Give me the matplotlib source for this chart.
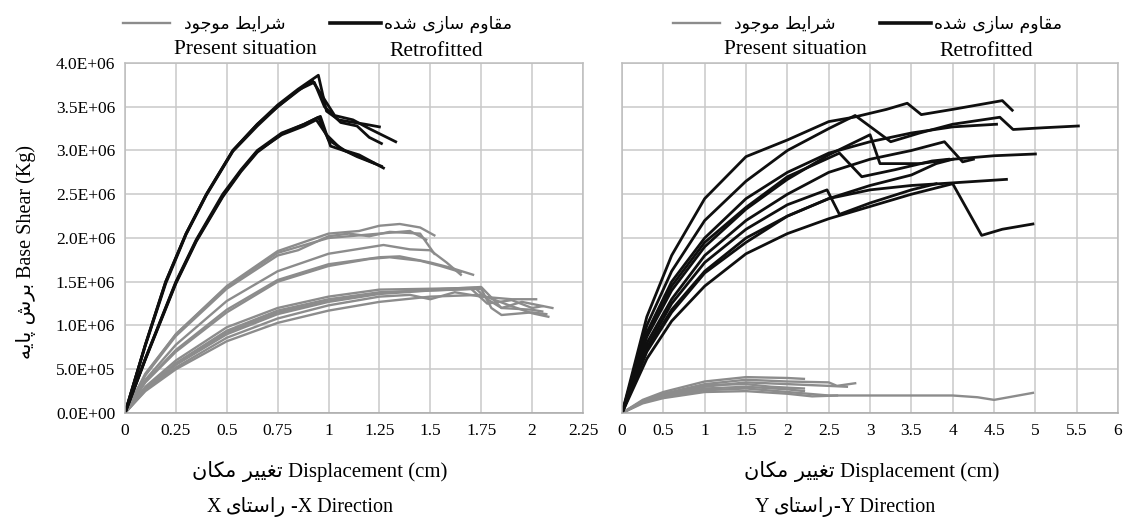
import numpy as np
import matplotlib
matplotlib.use("Agg")
import matplotlib.pyplot as plt
from matplotlib.lines import Line2D

SERIF = 'Liberation Serif'
SANS = 'DejaVu Sans'   # carries the arabic presentation forms
plt.rcParams['font.family'] = [SERIF, SANS]

# --- tiny persian shaper (presentation forms, visual order) ---
FORMS = {
    'ا': ('\uFE8D', '\uFE8E', None, None),
    'ب': ('\uFE8F', '\uFE90', '\uFE91', '\uFE92'),
    'پ': ('\uFB56', '\uFB57', '\uFB58', '\uFB59'),
    'ت': ('\uFE95', '\uFE96', '\uFE97', '\uFE98'),
    'ج': ('\uFE9D', '\uFE9E', '\uFE9F', '\uFEA0'),
    'د': ('\uFEA9', '\uFEAA', None, None),
    'ر': ('\uFEAD', '\uFEAE', None, None),
    'ز': ('\uFEAF', '\uFEB0', None, None),
    'س': ('\uFEB1', '\uFEB2', '\uFEB3', '\uFEB4'),
    'ش': ('\uFEB5', '\uFEB6', '\uFEB7', '\uFEB8'),
    'ط': ('\uFEC1', '\uFEC2', '\uFEC3', '\uFEC4'),
    'غ': ('\uFECD', '\uFECE', '\uFECF', '\uFED0'),
    'ق': ('\uFED5', '\uFED6', '\uFED7', '\uFED8'),
    'ک': ('\uFB8E', '\uFB8F', '\uFB90', '\uFB91'),
    'م': ('\uFEE1', '\uFEE2', '\uFEE3', '\uFEE4'),
    'ن': ('\uFEE5', '\uFEE6', '\uFEE7', '\uFEE8'),
    'ه': ('\uFEE9', '\uFEEA', '\uFEEB', '\uFEEC'),
    'و': ('\uFEED', '\uFEEE', None, None),
    'ی': ('\uFBFC', '\uFBFD', '\uFBFE', '\uFBFF'),
}


def fa(text):
    out = []
    for i, c in enumerate(text):
        if c not in FORMS:
            out.append(c)
            continue
        prev = text[i - 1] if i > 0 else ''
        nxt = text[i + 1] if i + 1 < len(text) else ''
        iso, fin, ini, med = FORMS[c]
        jp = prev in FORMS and FORMS[prev][2] is not None
        jn = nxt in FORMS and ini is not None
        if jp and jn:
            out.append(med)
        elif jp:
            out.append(fin)
        elif jn:
            out.append(ini)
        else:
            out.append(iso)
    return ''.join(out)[::-1]


# ---------------- data (base shear in 1E6 kg, displacement in cm) ----------------
# X direction, retrofitted
x_ret_x = [
    [0, 0.1, 0.2, 0.3, 0.4, 0.53, 0.65, 0.75, 0.85, 0.95, 0.99, 1.05, 1.1, 1.18, 1.25],
    [0, 0.1, 0.2, 0.3, 0.4, 0.53, 0.65, 0.75, 0.85, 0.92, 0.97, 1.03, 1.12, 1.2, 1.33],
    [0, 0.1, 0.2, 0.3, 0.4, 0.53, 0.65, 0.75, 0.85, 0.93, 0.98, 1.06, 1.14, 1.2, 1.26],
    [0, 0.1, 0.25, 0.35, 0.48, 0.57, 0.65, 0.77, 0.88, 0.95, 1.0, 1.08, 1.15, 1.27],
    [0, 0.1, 0.25, 0.35, 0.48, 0.57, 0.65, 0.77, 0.88, 0.94, 0.99, 1.06, 1.14, 1.26],
    [0, 0.1, 0.25, 0.35, 0.48, 0.57, 0.65, 0.77, 0.88, 0.96, 1.01, 1.1, 1.18, 1.22],
]
y_ret_x = [
    [0, 0.78, 1.5, 2.05, 2.5, 3.0, 3.3, 3.52, 3.7, 3.86, 3.45, 3.35, 3.33, 3.3, 3.27],
    [0, 0.78, 1.5, 2.05, 2.5, 3.0, 3.3, 3.5, 3.68, 3.8, 3.62, 3.4, 3.35, 3.25, 3.1],
    [0, 0.77, 1.48, 2.04, 2.49, 2.99, 3.28, 3.5, 3.69, 3.78, 3.5, 3.32, 3.28, 3.15, 3.08],
    [0, 0.62, 1.5, 1.98, 2.5, 2.78, 3.0, 3.2, 3.3, 3.38, 3.12, 3.0, 2.95, 2.8],
    [0, 0.62, 1.49, 1.97, 2.48, 2.77, 2.99, 3.18, 3.28, 3.35, 3.18, 3.02, 2.93, 2.82],
    [0, 0.61, 1.48, 1.96, 2.47, 2.76, 2.98, 3.19, 3.3, 3.39, 3.05, 2.98, 2.9, 2.86],
]

# X direction, present situation
x_pre_x = [
    [0, 0.1, 0.25, 0.5, 0.75, 1.0, 1.15, 1.25, 1.35, 1.45, 1.52],
    [0, 0.1, 0.25, 0.5, 0.75, 0.85, 1.0, 1.1, 1.2, 1.3, 1.45, 1.52],
    [0, 0.1, 0.25, 0.5, 0.75, 1.0, 1.25, 1.4, 1.48],
    [0, 0.1, 0.25, 0.5, 0.75, 1.0, 1.27, 1.4, 1.5, 1.58, 1.65],
    [0, 0.1, 0.25, 0.5, 0.75, 1.0, 1.25, 1.35, 1.5, 1.6, 1.71],
    [0, 0.1, 0.25, 0.5, 0.75, 1.0, 1.2, 1.3, 1.45, 1.55, 1.65],
    [0, 0.1, 0.25, 0.5, 0.75, 1.0, 1.25, 1.5, 1.72, 1.78, 1.85, 1.95, 2.1],
    [0, 0.1, 0.25, 0.5, 0.75, 1.0, 1.25, 1.5, 1.75, 1.8, 1.85, 2.0, 2.07],
    [0, 0.1, 0.25, 0.5, 0.75, 1.0, 1.25, 1.5, 1.7, 1.78, 1.9, 2.0, 2.05],
    [0, 0.1, 0.25, 0.5, 0.75, 1.0, 1.25, 1.4, 1.5, 1.62, 1.75, 1.9, 2.02],
    [0, 0.1, 0.25, 0.5, 0.75, 1.0, 1.25, 1.5, 1.75, 1.9, 2.0, 2.08],
    [0, 0.1, 0.25, 0.5, 0.75, 1.0, 1.25, 1.5, 1.75, 1.85, 2.0, 2.05],
]
y_pre_x = [
    [0, 0.45, 0.9, 1.45, 1.85, 2.05, 2.08, 2.14, 2.16, 2.12, 2.03],
    [0, 0.43, 0.88, 1.42, 1.8, 1.86, 2.02, 2.05, 2.02, 2.07, 2.05, 1.82],
    [0, 0.44, 0.9, 1.44, 1.83, 2.0, 2.05, 2.08, 1.98],
    [0, 0.38, 0.78, 1.28, 1.62, 1.82, 1.92, 1.87, 1.86, 1.72, 1.58],
    [0, 0.36, 0.72, 1.18, 1.52, 1.7, 1.78, 1.79, 1.72, 1.66, 1.58],
    [0, 0.35, 0.7, 1.15, 1.5, 1.68, 1.76, 1.78, 1.74, 1.68, 1.61],
    [0, 0.3, 0.6, 0.98, 1.2, 1.33, 1.41, 1.42, 1.43, 1.3, 1.2, 1.27, 1.2],
    [0, 0.28, 0.57, 0.94, 1.17, 1.3, 1.38, 1.4, 1.42, 1.2, 1.12, 1.15, 1.13],
    [0, 0.27, 0.55, 0.9, 1.13, 1.27, 1.36, 1.4, 1.42, 1.25, 1.29, 1.2, 1.22],
    [0, 0.26, 0.52, 0.86, 1.08, 1.23, 1.33, 1.35, 1.3, 1.38, 1.33, 1.3, 1.3],
    [0, 0.25, 0.5, 0.82, 1.03, 1.17, 1.27, 1.33, 1.35, 1.22, 1.14, 1.1],
    [0, 0.28, 0.56, 0.92, 1.15, 1.28, 1.37, 1.41, 1.44, 1.2, 1.18, 1.16],
]

# Y direction, retrofitted
x_ret_y = [
    [0, 0.3, 0.6, 1.0, 1.5, 2.0, 2.5, 2.8, 3.2, 3.45, 3.62, 4.0, 4.6, 4.72],
    [0, 0.3, 0.6, 1.0, 1.5, 2.0, 2.5, 2.82, 3.25, 3.6, 4.0, 4.57, 4.73, 5.1, 5.52],
    [0, 0.3, 0.6, 1.0, 1.5, 2.0, 2.5, 3.0, 3.5, 4.0, 4.53],
    [0, 0.3, 0.6, 1.0, 1.5, 2.0, 2.5, 3.0, 3.12, 3.6, 4.0, 4.5, 5.0],
    [0, 0.3, 0.6, 1.0, 1.5, 2.0, 2.5, 3.0, 3.5, 3.9, 4.12, 4.25],
    [0, 0.3, 0.6, 1.0, 1.5, 2.0, 2.5, 3.0, 3.5, 4.0, 4.65],
    [0, 0.3, 0.6, 1.0, 1.5, 2.0, 2.5, 3.0, 3.5, 4.0, 4.35, 4.6, 4.97],
    [0, 0.3, 0.6, 1.0, 1.5, 2.0, 2.48, 2.63, 3.0, 3.5, 3.8],
    [0, 0.3, 0.6, 1.0, 1.5, 2.0, 2.63, 2.9, 3.3, 3.75, 3.95],
    [0, 0.3, 0.6, 1.0, 1.5, 2.0, 2.5, 3.0, 3.5, 3.8, 4.0],
]
y_ret_y = [
    [0, 1.1, 1.8, 2.45, 2.93, 3.12, 3.33, 3.38, 3.47, 3.54, 3.41, 3.47, 3.57, 3.46],
    [0, 1.0, 1.62, 2.2, 2.65, 3.0, 3.25, 3.4, 3.1, 3.2, 3.3, 3.38, 3.24, 3.26, 3.28],
    [0, 0.92, 1.5, 2.0, 2.45, 2.75, 2.97, 3.1, 3.2, 3.27, 3.3],
    [0, 0.87, 1.4, 1.9, 2.33, 2.67, 2.95, 3.18, 2.85, 2.85, 2.9, 2.94, 2.96],
    [0, 0.8, 1.3, 1.8, 2.2, 2.5, 2.75, 2.9, 3.0, 3.1, 2.87, 2.9],
    [0, 0.7, 1.15, 1.6, 1.95, 2.25, 2.45, 2.55, 2.6, 2.63, 2.67],
    [0, 0.62, 1.05, 1.45, 1.82, 2.05, 2.22, 2.36, 2.5, 2.62, 2.03, 2.1, 2.16],
    [0, 0.75, 1.25, 1.72, 2.1, 2.38, 2.55, 2.27, 2.4, 2.55, 2.62],
    [0, 0.9, 1.45, 1.95, 2.35, 2.7, 2.97, 2.7, 2.78, 2.88, 2.9],
    [0, 0.72, 1.18, 1.62, 2.0, 2.25, 2.45, 2.6, 2.72, 2.85, 2.9],
]

# Y direction, present situation
x_pre_y = [
    [0, 0.25, 0.5, 1.0, 1.5, 2.0, 2.2],
    [0, 0.25, 0.5, 1.0, 1.5, 2.0, 2.5, 2.6, 2.82],
    [0, 0.25, 0.5, 1.0, 1.5, 2.0, 2.5, 2.72],
    [0, 0.25, 0.5, 1.0, 1.5, 2.0, 2.2],
    [0, 0.25, 0.5, 1.0, 1.5, 2.0, 2.5, 3.0, 3.5, 4.0, 4.3, 4.5, 4.97],
    [0, 0.25, 0.5, 1.0, 1.5, 2.0, 2.3, 2.6],
    [0, 0.25, 0.5, 1.0, 1.5, 1.8, 2.2],
]
y_pre_y = [
    [0, 0.15, 0.24, 0.36, 0.41, 0.4, 0.39],
    [0, 0.14, 0.22, 0.33, 0.38, 0.36, 0.35, 0.31, 0.34],
    [0, 0.13, 0.2, 0.3, 0.35, 0.33, 0.31, 0.3],
    [0, 0.12, 0.19, 0.28, 0.3, 0.27, 0.25],
    [0, 0.12, 0.18, 0.26, 0.28, 0.24, 0.2, 0.2, 0.2, 0.2, 0.18, 0.15, 0.23],
    [0, 0.11, 0.17, 0.24, 0.25, 0.22, 0.19, 0.2],
    [0, 0.13, 0.21, 0.32, 0.33, 0.3, 0.28],
]

xticks_x = [0, 0.25, 0.5, 0.75, 1, 1.25, 1.5, 1.75, 2, 2.25]
xticks_y = [0, 0.5, 1, 1.5, 2, 2.5, 3, 3.5, 4, 4.5, 5, 5.5, 6]
yticks = [0, 0.5e6, 1.0e6, 1.5e6, 2.0e6, 2.5e6, 3.0e6, 3.5e6, 4.0e6]

GRAY = '#8c8c8c'
BLACK = '#0f0f0f'
GRID = '#c9c9c9'

W, H = 1123, 521
fig = plt.figure(figsize=(W / 100, H / 100), dpi=100)
ax1 = fig.add_axes([0.1113, 0.2073, 0.4078, 0.6718])
ax2 = fig.add_axes([0.5539, 0.2073, 0.4417, 0.6718])

for ax, xt, xs_p, ys_p, xs_r, ys_r in [
        (ax1, xticks_x, x_pre_x, y_pre_x, x_ret_x, y_ret_x),
        (ax2, xticks_y, x_pre_y, y_pre_y, x_ret_y, y_ret_y)]:
    for xs, ys in zip(xs_p, ys_p):
        ax.plot(xs, np.array(ys) * 1e6, color=GRAY, lw=1.7, solid_joinstyle='round')
    for xs, ys in zip(xs_r, ys_r):
        ax.plot(xs, np.array(ys) * 1e6, color=BLACK, lw=2.0, solid_joinstyle='round')
    ax.set_xlim(xt[0], xt[-1])
    ax.set_ylim(0, 4.0e6)
    ax.set_xticks(xt)
    ax.set_xticklabels(['%g' % v for v in xt], fontsize=12.5, family=SERIF)
    ax.set_yticks(yticks)
    ax.grid(True, color=GRID, lw=1.1)
    ax.set_axisbelow(True)
    ax.tick_params(length=0, pad=7)
    for s in ax.spines.values():
        s.set_color('#bdbdbd')
        s.set_linewidth(1.1)
    ax.spines['bottom'].set_color('#a8a8a8')

ax1.set_yticklabels(['%.1E' % v for v in yticks], fontsize=12.5, family=SERIF)
ax2.set_yticklabels([])

renderer = fig.canvas.get_renderer()


def place(pieces, xc, yb, size, rot=0):
    """lay text pieces (text, family, gap_before_px) one after another,
    centred on xc (pixels from left) with baseline at yb (pixels from top)"""
    objs, lens = [], []
    for s, fam, gap in pieces:
        t = fig.text(0, 0, s, fontsize=size, family=fam, rotation=rot,
                     rotation_mode='anchor', ha='center', va='baseline')
        bb = t.get_window_extent(renderer)
        objs.append(t)
        lens.append(bb.height if rot else bb.width)
    total = sum(lens) + sum(p[2] for p in pieces)
    pos = -total / 2
    for t, ln, p in zip(objs, lens, pieces):
        pos += p[2]
        mid = pos + ln / 2
        if rot:
            t.set_position((yb / W, 1 - (xc - mid) / H))
        else:
            t.set_position(((xc + mid) / W, 1 - yb / H))
        pos += ln


# y label (reads bottom to top)
place([(fa('برش پایه'), SANS, 0), ('Base Shear (Kg)', SERIF, 5)], 252, 31, 14.5, rot=90)

# x labels and direction captions
for xc_lab, xc_dir, d, g in [(320, 300, 'X', 5), (872, 845, 'Y', 0)]:
    place([(fa('تغییر مکان'), SANS, 0), ('Displacement (cm)', SERIF, 5)], xc_lab, 477, 15)
    place([(d, SERIF, 0), (fa('راستای'), SANS, 5), ('-%s Direction' % d, SERIF, g)],
          xc_dir, 512, 14.5)

# legends above each panel
for off in [0, 550]:
    fig.add_artist(Line2D([(off + 123) / W, (off + 170) / W], [1 - 23 / H] * 2, color=GRAY, lw=1.7))
    fig.text((off + 235) / W, 1 - 24 / H, fa('شرایط موجود'), ha='center', va='center',
             fontsize=12.5, family=SANS)
    fig.add_artist(Line2D([(off + 330) / W, (off + 381) / W], [1 - 23 / H] * 2, color=BLACK, lw=2.6))
    fig.text((off + 448) / W, 1 - 24 / H, fa('مقاوم سازی شده'), ha='center', va='center',
             fontsize=12.5, family=SANS)
    fig.text((off + 245) / W, 1 - 50 / H, 'Present situation', ha='center', va='center',
             fontsize=15.5, family=SERIF)
    fig.text((off + 436) / W, 1 - 52 / H, 'Retrofitted', ha='center', va='center',
             fontsize=15.5, family=SERIF)

fig.savefig('out.png', dpi=100)
